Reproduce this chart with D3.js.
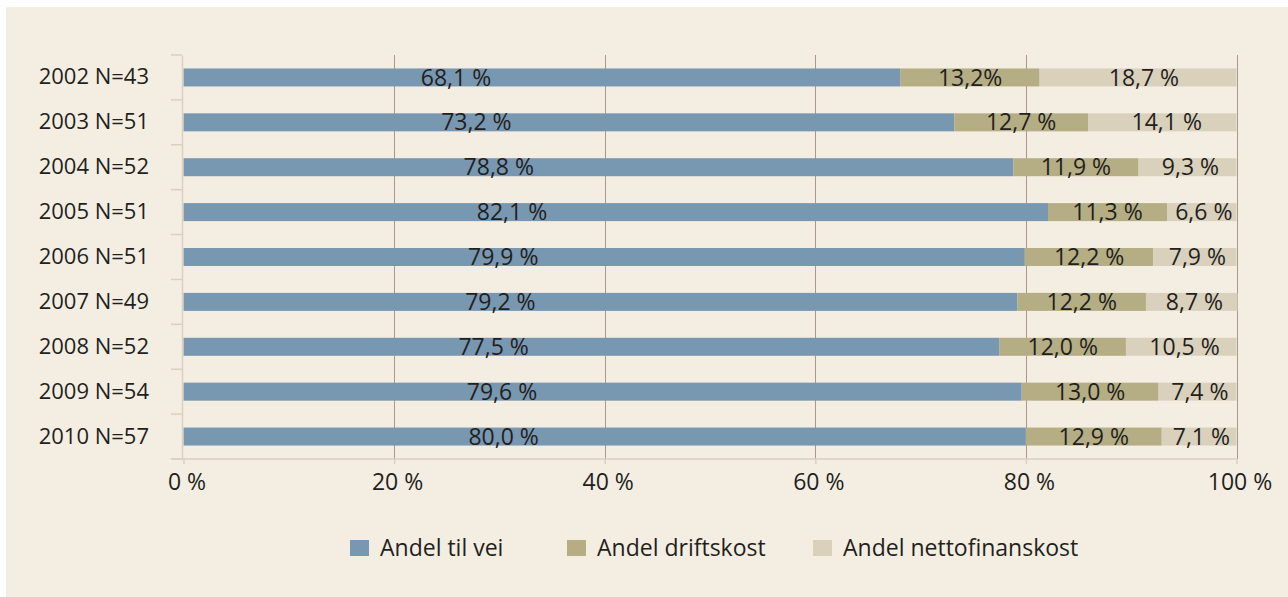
<!DOCTYPE html>
<html>
<head>
<meta charset="utf-8">
<script src="https://cdn.jsdelivr.net/npm/d3@7"></script>
<style>
  body { margin: 0; background: #ffffff; }
  svg { display: block; font-family: "Open Sans", sans-serif; }
</style>
</head>
<body>
<svg id="chart" width="1288" height="597"></svg>
<script>
// categories (top to bottom)
const years = ["2002 N=43", "2003 N=51", "2004 N=52", "2005 N=51", "2006 N=51",
               "2007 N=49", "2008 N=52", "2009 N=54", "2010 N=57"];
// share values in percent
const veiShare   = [68.1, 73.2, 78.8, 82.1, 79.9, 79.2, 77.5, 79.6, 80.0];
const driftShare = [13.2, 12.7, 11.9, 11.3, 12.2, 12.2, 12.0, 13.0, 12.9];
const nettoShare = [18.7, 14.1, 9.3, 6.6, 7.9, 8.7, 10.5, 7.4, 7.1];
// labels as printed (one has no space before %)
const driftLabels = ["13,2%", "12,7 %", "11,9 %", "11,3 %", "12,2 %", "12,2 %", "12,0 %", "13,0 %", "12,9 %"];
const seriesNames = ["Andel til vei", "Andel driftskost", "Andel nettofinanskost"];
const xTicks = [0, 20, 40, 60, 80, 100];

const colors = ["#7897b1", "#b5ae84", "#dad1bd"];
const textColor = "#231f20";

const svg = d3.select("#chart");

// panel background
svg.append("rect")
  .attr("x", 6).attr("y", 7)
  .attr("width", 1282).attr("height", 590)
  .attr("fill", "#f4eee2");

const x = d3.scaleLinear().domain([0, 100]).range([183.5, 1236.5]);
const y = d3.scaleBand().domain(years).range([55, 459]).paddingInner(0).paddingOuter(0);
const barH = 18;

const fmt = v => v.toFixed(1).replace(".", ",") + " %";

// gridlines
svg.append("g")
  .selectAll("line")
  .data(xTicks.filter(t => t > 0))
  .enter()
  .append("line")
  .attr("x1", d => Math.round(x(d)) + 0.5)
  .attr("x2", d => Math.round(x(d)) + 0.5)
  .attr("y1", 55).attr("y2", 459)
  .attr("stroke", "#a8998b")
  .attr("stroke-width", 1);

// build stacked rows
const rows = years.map((yr, i) => ({
  year: yr,
  segs: [
    { start: 0, val: veiShare[i], label: fmt(veiShare[i]), pos: 0.38 },
    { start: veiShare[i], val: driftShare[i], label: driftLabels[i], pos: 0.5 },
    { start: veiShare[i] + driftShare[i], val: nettoShare[i], label: fmt(nettoShare[i]), pos: 0.53 }
  ]
}));

const rowG = svg.append("g")
  .selectAll("g")
  .data(rows)
  .enter()
  .append("g")
  .attr("transform", d => `translate(0,${y(d.year) + y.bandwidth() / 2})`);

rowG.selectAll("rect")
  .data(d => d.segs)
  .enter()
  .append("rect")
  .attr("x", d => x(d.start))
  .attr("y", -barH / 2)
  .attr("width", d => x(d.start + d.val) - x(d.start))
  .attr("height", barH)
  .attr("fill", (d, i) => colors[i]);

rowG.selectAll("text")
  .data(d => d.segs)
  .enter()
  .append("text")
  .attr("x", d => x(d.start) + (x(d.start + d.val) - x(d.start)) * d.pos)
  .attr("y", 0)
  .attr("dy", "0.35em")
  .attr("text-anchor", "middle")
  .attr("font-size", 23)
  .attr("fill", textColor)
  .text(d => d.label);

// y axis
const axisColor = "#d9d0bf";
const yAxis = svg.append("g")
  .attr("transform", "translate(182,0)")
  .call(d3.axisLeft(y).tickSize(0).tickPadding(33));
yAxis.select(".domain").attr("stroke", axisColor).attr("stroke-width", 1.5);
yAxis.selectAll("text").attr("font-size", 22).attr("fill", textColor)
  .attr("font-family", "Open Sans, sans-serif");
// y tick marks sit between categories
const bounds = years.map(d => y(d)).concat([459]);
svg.append("g")
  .selectAll("line")
  .data(bounds)
  .enter()
  .append("line")
  .attr("x1", 171).attr("x2", 182)
  .attr("y1", d => d).attr("y2", d => d)
  .attr("stroke", axisColor).attr("stroke-width", 1.5);

// x axis
const xAxis = svg.append("g")
  .attr("transform", "translate(0,459)")
  .call(d3.axisBottom(x).tickValues(xTicks).tickSize(5).tickPadding(10)
    .tickFormat(d => d + " %").tickSizeOuter(0));
xAxis.select(".domain").attr("d", `M171,0H${x(100)}`).attr("stroke", axisColor).attr("stroke-width", 1.5);
xAxis.selectAll(".tick line").attr("stroke", axisColor).attr("stroke-width", 1.5);
xAxis.selectAll("text").attr("font-size", 23).attr("fill", textColor)
  .attr("font-family", "Open Sans, sans-serif").attr("dx", 3);

// legend
const legendX = [350, 567, 813];
const legend = svg.append("g")
  .selectAll("g")
  .data(seriesNames)
  .enter()
  .append("g")
  .attr("transform", (d, i) => `translate(${legendX[i]},540)`);
legend.append("rect")
  .attr("width", 19).attr("height", 16)
  .attr("fill", (d, i) => colors[i]);
legend.append("text")
  .attr("x", 30).attr("y", 8).attr("dy", "0.35em")
  .attr("font-size", 23)
  .attr("fill", textColor)
  .text(d => d);
</script>
</body>
</html>
